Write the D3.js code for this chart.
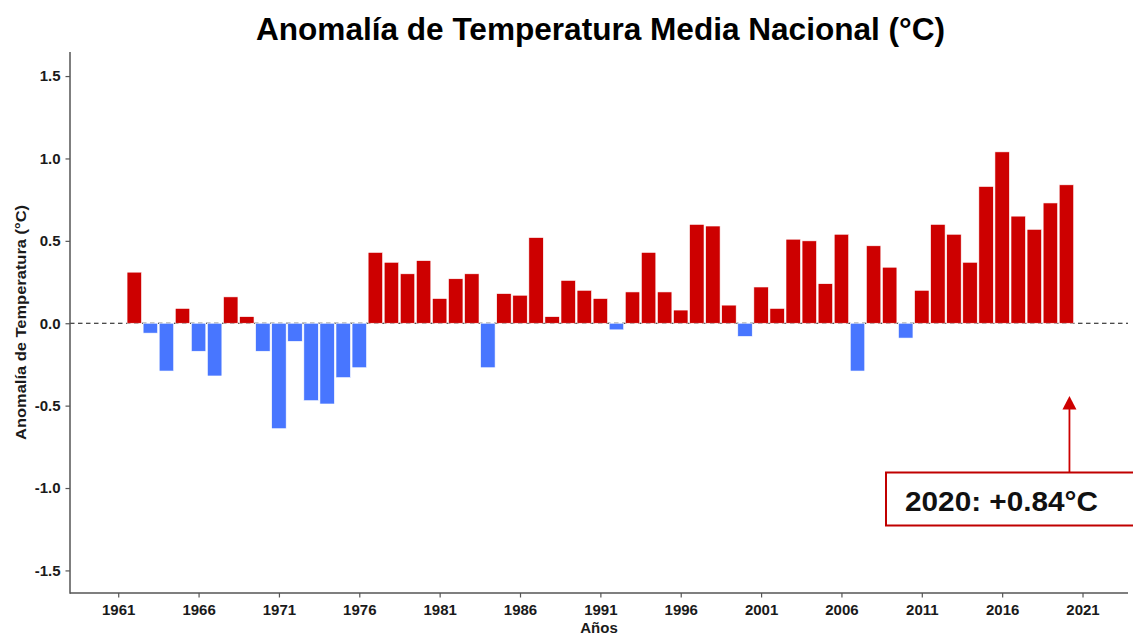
<!DOCTYPE html>
<html>
<head>
<meta charset="utf-8">
<script src="https://cdn.jsdelivr.net/npm/d3@7/dist/d3.min.js"></script>
<style>
  html, body { margin: 0; padding: 0; background: #fff; }
  svg { display: block; font-family: "Liberation Sans", Arial, sans-serif; }
</style>
</head>
<body>
<svg id="chart" width="1133" height="635"></svg>
<script>
const years = [1962,1963,1964,1965,1966,1967,1968,1969,1970,1971,1972,1973,1974,1975,1976,1977,1978,1979,1980,1981,1982,1983,1984,1985,1986,1987,1988,1989,1990,1991,1992,1993,1994,1995,1996,1997,1998,1999,2000,2001,2002,2003,2004,2005,2006,2007,2008,2009,2010,2011,2012,2013,2014,2015,2016,2017,2018,2019,2020];
const anomalies = [0.31,-0.06,-0.29,0.09,-0.17,-0.32,0.16,0.04,-0.17,-0.64,-0.11,-0.47,-0.49,-0.33,-0.27,0.43,0.37,0.30,0.38,0.15,0.27,0.30,-0.27,0.18,0.17,0.52,0.04,0.26,0.20,0.15,-0.04,0.19,0.43,0.19,0.08,0.60,0.59,0.11,-0.08,0.22,0.09,0.51,0.50,0.24,0.54,-0.29,0.47,0.34,-0.09,0.20,0.60,0.54,0.37,0.83,1.04,0.65,0.57,0.73,0.84];
const xTicks = [1961,1966,1971,1976,1981,1986,1991,1996,2001,2006,2011,2016,2021];
const yTicks = [-1.5,-1.0,-0.5,0.0,0.5,1.0,1.5];
const titleText = "Anomalía de Temperatura Media Nacional (°C)";
const xLabel = "Años";
const yLabel = "Anomalía de Temperatura (°C)";
const highlightYear = 2020;
const highlightText = "2020: +0.84°C";

(function () {
const data = years.map((yr, i) => ({year: yr, value: anomalies[i]}));

const svg = d3.select("#chart");
const pLeft = 70, pRight = 1128, pTop = 52, pBottom = 593;

const x = d3.scaleLinear().domain([1958.0, 2023.83]).range([pLeft, pRight]);
const y = d3.scaleLinear().domain([-1.637, 1.646]).range([pBottom, pTop]);

const RED = "#CD0000", BLUE = "#4876FF", AXIS = "#555";

// zero dashed line
svg.append("line")
  .attr("x1", pLeft).attr("x2", pRight)
  .attr("y1", y(0)).attr("y2", y(0))
  .attr("stroke", "#111").attr("stroke-width", 1.2)
  .attr("stroke-dasharray", "4.5,3.5");

// bars
const bw = 0.9 * (x(1) - x(0));
svg.append("g").selectAll("rect").data(data).join("rect")
  .attr("x", d => x(d.year) - bw / 2)
  .attr("width", bw)
  .attr("y", d => y(Math.max(0, d.value)))
  .attr("height", d => Math.abs(y(d.value) - y(0)))
  .attr("fill", d => d.value >= 0 ? RED : BLUE)
  .attr("stroke", "#fff").attr("stroke-width", 0.6);

// axes
const xAxis = svg.append("g").attr("transform", `translate(0,${pBottom})`)
  .call(d3.axisBottom(x).tickValues(xTicks).tickFormat(d => String(d)).tickSize(4.5).tickPadding(7));
const yAxis = svg.append("g").attr("transform", `translate(${pLeft},0)`)
  .call(d3.axisLeft(y).tickValues(yTicks).tickFormat(d => d.toFixed(1)).tickSize(4.5).tickPadding(5));
xAxis.select(".domain").remove();
yAxis.select(".domain").remove();
[xAxis, yAxis].forEach(g => {
  g.selectAll(".tick line").attr("stroke", AXIS).attr("stroke-width", 1.2);
  g.selectAll(".tick text").attr("fill", "#1a1a1a").attr("font-size", 15).attr("font-weight", "bold")
    .attr("font-family", "'Liberation Sans', Arial, sans-serif");
});
xAxis.selectAll(".tick text").attr("dy", null).attr("y", 22);
svg.append("line").attr("x1", pLeft).attr("x2", pLeft).attr("y1", pTop).attr("y2", pBottom + 0.7)
  .attr("stroke", AXIS).attr("stroke-width", 1.5);
svg.append("line").attr("x1", pLeft).attr("x2", pRight).attr("y1", pBottom).attr("y2", pBottom)
  .attr("stroke", AXIS).attr("stroke-width", 1.5);

// title
svg.append("text").attr("x", 600.5).attr("y", 40).attr("text-anchor", "middle")
  .attr("font-size", 31).attr("font-weight", "bold").attr("fill", "#000")
  .attr("textLength", 689).attr("lengthAdjust", "spacingAndGlyphs")
  .text(titleText);

// axis labels
svg.append("text").attr("x", 599).attr("y", 633).attr("text-anchor", "middle")
  .attr("font-size", 15).attr("font-weight", "bold").attr("fill", "#1a1a1a")
  .text(xLabel);
svg.append("text").attr("transform", `translate(26,322.5) rotate(-90)`).attr("text-anchor", "middle")
  .attr("font-size", 15).attr("font-weight", "bold").attr("fill", "#1a1a1a")
  .attr("textLength", 235).attr("lengthAdjust", "spacingAndGlyphs")
  .text(yLabel);

// annotation
const ax = x(highlightYear) + 3;
const boxTop = 472.5, boxBottom = 525.5;
svg.append("line").attr("x1", ax).attr("x2", ax).attr("y1", boxTop).attr("y2", 407)
  .attr("stroke", RED).attr("stroke-width", 1.8);
svg.append("path")
  .attr("d", `M${ax},396 L${ax - 7},409.5 L${ax + 7},409.5 Z`)
  .attr("fill", RED);
svg.append("rect").attr("x", 886).attr("y", boxTop).attr("width", 260).attr("height", boxBottom - boxTop)
  .attr("fill", "#fff").attr("stroke", "#C00000").attr("stroke-width", 2);
svg.append("text").attr("x", 905).attr("y", 511)
  .attr("font-size", 27).attr("font-weight", "bold").attr("fill", "#111")
  .attr("textLength", 193).attr("lengthAdjust", "spacingAndGlyphs")
  .text(highlightText);
})();
</script>
</body>
</html>
